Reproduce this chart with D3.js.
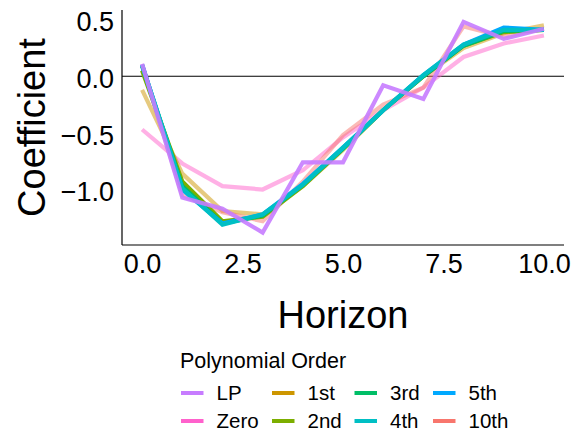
<!DOCTYPE html>
<html><head><meta charset="utf-8">
<script src="https://cdn.jsdelivr.net/npm/d3@7"></script>
<style>body{margin:0;background:#fff}svg{display:block}text{font-family:"Liberation Sans",Arial,Helvetica,sans-serif}</style>
</head><body>
<svg id="chart" width="584" height="435"></svg>
<script>
const horizons = [0,1,2,3,4,5,6,7,8,9,10];
const seriesNames = ["LP","Zero","1st","2nd","3rd","4th","5th","10th"];
const seriesColors = ["#C77CFF","#FF61CC","#CD9600","#7CAE00","#00BE67","#00BFC4","#00A9FF","#F8766D"];
const seriesAlpha = [0.9,0.5,0.5,1,1,1,1,0.5];
const lpValues    = [0.11,-1.07,-1.17,-1.38,-0.76,-0.76,-0.08,-0.20,0.48,0.33,0.42];
const zeroValues  = [-0.47,-0.77,-0.97,-1.00,-0.83,-0.54,-0.30,-0.10,0.17,0.29,0.36];
const firstValues = [-0.12,-0.86,-1.19,-1.22,-0.97,-0.65,-0.30,0.00,0.25,0.38,0.45];
const secondValues= [0.05,-0.93,-1.28,-1.24,-0.97,-0.64,-0.30,0.00,0.27,0.39,0.41];
const thirdValues = [0.09,-0.97,-1.30,-1.23,-0.96,-0.64,-0.30,0.00,0.27,0.40,0.41];
const fourthValues= [0.10,-0.99,-1.31,-1.22,-0.96,-0.63,-0.30,0.01,0.28,0.41,0.41];
const fifthValues = [0.10,-1.00,-1.30,-1.22,-0.95,-0.63,-0.30,0.01,0.28,0.43,0.41];
const tenthValues = [0.10,-1.05,-1.20,-1.28,-0.93,-0.52,-0.25,-0.10,0.44,0.35,0.42];
const allValues = [lpValues,zeroValues,firstValues,secondValues,thirdValues,fourthValues,fifthValues,tenthValues];
const xTicks = [0,2.5,5,7.5,10];
const yTicks = [-1.0,-0.5,0.0,0.5];

const svg = d3.select("#chart");
const P = {left:122,right:564,top:10,bottom:245};
const x = d3.scaleLinear().domain([-0.5,10.5]).range([P.left,P.right]);
const y = d3.scaleLinear().domain([-1.49,0.585]).range([P.bottom,P.top]);

// zero line
svg.append("line").attr("x1",P.left).attr("x2",P.right).attr("y1",y(0)).attr("y2",y(0))
  .attr("stroke","#000").attr("stroke-width",1.1);

const line = d3.line().x((d,i)=>x(horizons[i])).y(d=>y(d));
const drawOrder = [1,2,7,3,4,6,5,0];
drawOrder.forEach(k=>{
  svg.append("path").datum(allValues[k]).attr("d",line)
    .attr("fill","none").attr("stroke",seriesColors[k]).attr("stroke-opacity",seriesAlpha[k])
    .attr("stroke-width",4.2).attr("stroke-linejoin","miter").attr("stroke-linecap","butt");
});

// axes
const xAxis = svg.append("g").attr("transform",`translate(0,${P.bottom})`)
  .call(d3.axisBottom(x).tickValues(xTicks).tickFormat(d3.format(".1f")).tickSize(0).tickPadding(9));
xAxis.select(".domain").attr("d",`M${P.left},0H${P.right}`).attr("stroke","#000").attr("stroke-width",1.2);
xAxis.selectAll("text").attr("font-size",27).attr("fill","#000");
const yAxis = svg.append("g").attr("transform",`translate(${P.left},0)`)
  .call(d3.axisLeft(y).tickValues(yTicks).tickFormat(d3.format(".1f")).tickSize(0).tickPadding(8));
yAxis.select(".domain").attr("d",`M0,${P.top}V${P.bottom}`).attr("stroke","#000").attr("stroke-width",1.2);
yAxis.selectAll("text").attr("font-size",27).attr("fill","#000").attr("dy","0.42em");

// titles
svg.append("text").attr("x",(P.left+P.right)/2).attr("y",328).attr("text-anchor","middle")
  .attr("font-size",38).text("Horizon");
svg.append("text").attr("transform",`translate(45,${(P.top+P.bottom)/2}) rotate(-90)`)
  .attr("text-anchor","middle").attr("font-size",38).text("Coefficient");

// legend
const lg = svg.append("g");
lg.append("text").attr("x",180).attr("y",368).attr("font-size",21.5).text("Polynomial Order");
const colX = [181,272,354.5,433];
const rowY = [393,421];
seriesNames.forEach((n,i)=>{
  const c = Math.floor(i/2), r = i%2;
  lg.append("line").attr("x1",colX[c]).attr("x2",colX[c]+22.5).attr("y1",rowY[r]).attr("y2",rowY[r])
    .attr("stroke",seriesColors[i]).attr("stroke-width",4);
  lg.append("text").attr("x",colX[c]+35.5).attr("y",rowY[r]).attr("dy","0.36em")
    .attr("font-size",20.5).text(n);
});
</script>
</body></html>
